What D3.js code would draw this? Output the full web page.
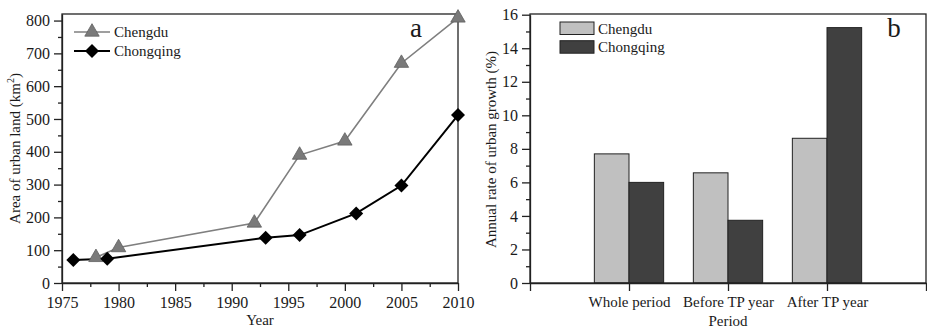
<!DOCTYPE html>
<html>
<head>
<meta charset="utf-8">
<script src="https://cdn.jsdelivr.net/npm/d3@7"></script>
<style>
  body { margin: 0; background: #fff; }
  text { font-family: "Liberation Serif", "Times New Roman", serif; fill: #1a1a1a; }
</style>
</head>
<body>
<div id="chart"></div>
<script>
// Panel a data: area of urban land (km2)
const cdYears = [1978, 1980, 1992, 1996, 2000, 2005, 2010];
const cdArea = [78, 108, 183, 390, 433, 670, 808];
const cqYears = [1976, 1979, 1993, 1996, 2001, 2005, 2010];
const cqArea = [70, 74, 138, 146, 212, 297, 512];

// Panel b data: annual rate of urban growth (%)
const periods = ['Whole period', 'Before TP year', 'After TP year'];
const cdRate = [7.7, 6.57, 8.63];
const cqRate = [6.0, 3.74, 15.23];

const cities = ['Chengdu', 'Chongqing'];

const width = 927;
const height = 330;
const fontSize = '15px';
const tickFont = '16px';
const serif = '"Liberation Serif", "Times New Roman", serif';

const svg = d3
  .select('#chart')
  .append('svg')
  .attr('width', width)
  .attr('height', height);

// ---------- Panel a ----------
const a = { left: 62, top: 14, right: 458, bottom: 283 };

const xA = d3.scaleLinear().domain([1975, 2010]).range([a.left, a.right]);
const yA = d3.scaleLinear().domain([0, 820]).range([a.bottom, a.top]);

const gA = svg.append('g');

// minor ticks
gA.append('g')
  .attr('transform', 'translate(0,' + a.bottom + ')')
  .call(d3.axisBottom(xA).tickValues(d3.range(1977.5, 2010, 5)).tickSize(4).tickFormat(''))
  .call((g) => g.select('.domain').remove());
gA.append('g')
  .attr('transform', 'translate(' + a.left + ',0)')
  .call(d3.axisLeft(yA).tickValues(d3.range(50, 820, 100)).tickSize(4).tickFormat(''))
  .call((g) => g.select('.domain').remove());

// major ticks
gA.append('g')
  .attr('class', 'axis')
  .attr('transform', 'translate(0,' + a.bottom + ')')
  .call(d3.axisBottom(xA).tickValues(d3.range(1975, 2011, 5)).tickFormat(d3.format('d')).tickSize(8).tickSizeOuter(0).tickPadding(6));
gA.append('g')
  .attr('class', 'axis')
  .attr('transform', 'translate(' + a.left + ',0)')
  .call(d3.axisLeft(yA).tickValues(d3.range(0, 801, 100)).tickSize(8).tickSizeOuter(0).tickPadding(4));

// frame
gA.append('rect')
  .attr('x', a.left)
  .attr('y', a.top)
  .attr('width', a.right - a.left)
  .attr('height', a.bottom - a.top)
  .attr('fill', 'none')
  .attr('stroke', '#222')
  .attr('stroke-width', 1.3);

const line = d3.line().x((d) => xA(d[0])).y((d) => yA(d[1]));
const cdPts = cdYears.map((y, i) => [y, cdArea[i]]);
const cqPts = cqYears.map((y, i) => [y, cqArea[i]]);

const tri = d3.symbol().type(d3.symbolTriangle).size(90);
const diamond = (x, y, r) => 'M' + x + ',' + (y - r) + 'L' + (x + r) + ',' + y + 'L' + x + ',' + (y + r) + 'L' + (x - r) + ',' + y + 'Z';

gA.append('path')
  .datum(cdPts)
  .attr('d', line)
  .attr('fill', 'none')
  .attr('stroke', '#7f7f7f')
  .attr('stroke-width', 1.6);
gA.append('path')
  .datum(cqPts)
  .attr('d', line)
  .attr('fill', 'none')
  .attr('stroke', '#000')
  .attr('stroke-width', 2);

gA.selectAll('.tri')
  .data(cdPts)
  .enter()
  .append('path')
  .attr('class', 'tri')
  .attr('d', tri)
  .attr('transform', (d) => 'translate(' + xA(d[0]) + ',' + yA(d[1]) + ')')
  .attr('fill', '#7a7a7a')
  .attr('stroke', '#5f5f5f')
  .attr('stroke-width', 0.8);

gA.selectAll('.dia')
  .data(cqPts)
  .enter()
  .append('path')
  .attr('class', 'dia')
  .attr('d', (d) => diamond(xA(d[0]), yA(d[1]), 7))
  .attr('fill', '#000');

// legend a
const legA = gA.append('g').attr('transform', 'translate(74,32)');
cities.forEach((c, i) => {
  const row = legA.append('g').attr('transform', 'translate(0,' + i * 19 + ')');
  row.append('line')
    .attr('x1', 0).attr('x2', 36)
    .attr('stroke', i === 0 ? '#7f7f7f' : '#000')
    .attr('stroke-width', i === 0 ? 1.6 : 2);
  if (i === 0) {
    row.append('path').attr('d', tri).attr('transform', 'translate(18,0)')
      .attr('fill', '#7a7a7a').attr('stroke', '#5f5f5f').attr('stroke-width', 0.8);
  } else {
    row.append('path').attr('d', diamond(18, 0, 7)).attr('fill', '#000');
  }
  row.append('text').attr('x', 40).attr('dy', '0.35em').style('font-size', fontSize).text(c);
});

// label a
gA.append('text')
  .attr('x', 416)
  .attr('y', 37)
  .attr('text-anchor', 'middle')
  .style('font-size', '27px')
  .text('a');

// axis titles a
gA.append('text')
  .attr('x', (a.left + a.right) / 2)
  .attr('y', 325)
  .attr('text-anchor', 'middle')
  .style('font-size', fontSize)
  .text('Year');

const yTitleA = gA.append('text')
  .attr('transform', 'translate(20,' + (a.top + a.bottom) / 2 + ') rotate(-90)')
  .attr('text-anchor', 'middle')
  .style('font-size', fontSize);
yTitleA.append('tspan').text('Area of urban land (km');
yTitleA.append('tspan').attr('dy', '-6').style('font-size', '10px').text('2');
yTitleA.append('tspan').attr('dy', '6').text(')');

// ---------- Panel b ----------
const b = { left: 530, top: 14, right: 926, bottom: 283 };

const xB = d3.scalePoint().domain(periods).range([b.left, b.right]).padding(1);
const yB = d3.scaleLinear().domain([0, 16]).range([b.bottom, b.top + 0.7]);
const barW = xB.step() * 0.35;

const gB = svg.append('g');

gB.append('g')
  .attr('transform', 'translate(' + b.left + ',0)')
  .call(d3.axisLeft(yB).tickValues(d3.range(1, 16, 2)).tickSize(4).tickFormat(''))
  .call((g) => g.select('.domain').remove());

gB.append('g')
  .attr('class', 'axis')
  .attr('transform', 'translate(' + b.left + ',0)')
  .call(d3.axisLeft(yB).tickValues(d3.range(0, 17, 2)).tickSize(8).tickSizeOuter(0).tickPadding(4));

// bars
const barData = [];
periods.forEach((p, i) => {
  barData.push({ p: p, city: 0, v: cdRate[i] });
  barData.push({ p: p, city: 1, v: cqRate[i] });
});
const barFill = ['#c0c0c0', '#404040'];

gB.selectAll('.bar')
  .data(barData)
  .enter()
  .append('rect')
  .attr('class', 'bar')
  .attr('x', (d) => xB(d.p) - (d.city === 0 ? barW : 0))
  .attr('y', (d) => yB(d.v))
  .attr('width', barW)
  .attr('height', (d) => yB(0) - yB(d.v))
  .attr('fill', (d) => barFill[d.city])
  .attr('stroke', '#222')
  .attr('stroke-width', 1);

gB.append('g')
  .attr('class', 'axis cat')
  .attr('transform', 'translate(0,' + b.bottom + ')')
  .call(d3.axisBottom(xB).tickSize(8).tickSizeOuter(8).tickPadding(5));

// frame
gB.append('rect')
  .attr('x', b.left)
  .attr('y', b.top)
  .attr('width', b.right - b.left)
  .attr('height', b.bottom - b.top)
  .attr('fill', 'none')
  .attr('stroke', '#222')
  .attr('stroke-width', 1.3);

// legend b
const legB = gB.append('g').attr('transform', 'translate(560,22)');
cities.forEach((c, i) => {
  const row = legB.append('g').attr('transform', 'translate(0,' + i * 18.7 + ')');
  row.append('rect')
    .attr('width', 34).attr('height', 12.5)
    .attr('fill', barFill[i]).attr('stroke', '#222').attr('stroke-width', 1);
  row.append('text').attr('x', 38).attr('y', 6.3).attr('dy', '0.35em').style('font-size', fontSize).text(c);
});

gB.append('text')
  .attr('x', 894)
  .attr('y', 37)
  .attr('text-anchor', 'middle')
  .style('font-size', '27px')
  .text('b');

gB.append('text')
  .attr('x', (b.left + b.right) / 2)
  .attr('y', 326)
  .attr('text-anchor', 'middle')
  .style('font-size', fontSize)
  .text('Period');

gB.append('text')
  .attr('transform', 'translate(496,' + ((b.top + b.bottom) / 2 + 1) + ') rotate(-90)')
  .attr('text-anchor', 'middle')
  .style('font-size', fontSize)
  .text('Annual rate of urban growth (%)');

// axis styling
svg.selectAll('.axis text')
  .style('font-size', tickFont)
  .style('font-family', serif)
  .attr('fill', '#1a1a1a');
svg.selectAll('.cat text').style('font-size', fontSize);
svg.selectAll('.tick line, .domain').attr('stroke', '#222').attr('stroke-width', 1.3);
</script>
</body>
</html>
